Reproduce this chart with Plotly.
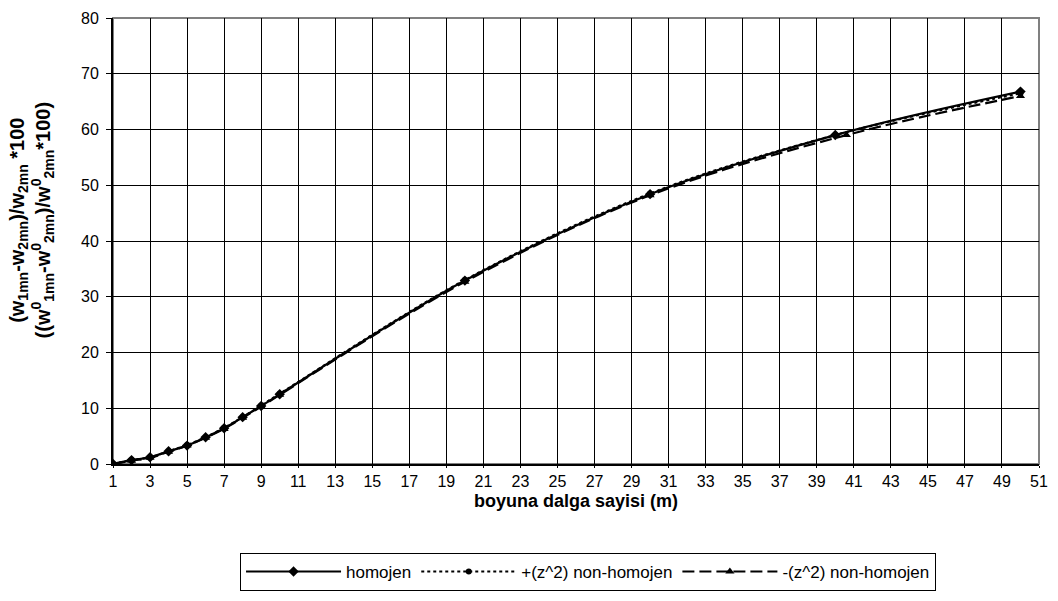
import plotly.graph_objects as go

# m values and relative frequency differences (%)
m_homojen = [1, 2, 3, 4, 5, 6, 7, 8, 9, 10, 20, 30, 40, 50]
homojen = [0.0, 0.7, 1.2, 2.3, 3.3, 4.8, 6.4, 8.4, 10.4, 12.5, 32.9, 48.4, 59.0, 66.8]

m_plus = [1, 2, 3, 4, 5, 6, 7, 8, 9, 10, 20, 30, 40, 50]
plus_z2 = [0.0, 0.7, 1.2, 2.3, 3.4, 4.8, 6.5, 8.4, 10.5, 12.6, 33.0, 48.5, 59.0, 66.5]

m_minus = [1, 2, 3, 4, 5, 6, 7, 8, 9, 10, 20, 30, 40.6, 50]
minus_z2 = [0.0, 0.6, 1.1, 2.2, 3.3, 4.7, 6.3, 8.3, 10.3, 12.4, 32.7, 48.2, 59.0, 66.0]

x_ticks = list(range(1, 52, 2))
y_ticks = list(range(0, 81, 10))

font = "Liberation Sans, Arial, sans-serif"

fig = go.Figure()
fig.add_trace(go.Scatter(
    x=m_homojen, y=homojen, name="homojen", mode="lines+markers",
    line=dict(color="black", width=2.2, shape="spline"),
    marker=dict(symbol="diamond", size=8, color="black"),
))
fig.add_trace(go.Scatter(
    x=m_plus, y=plus_z2, name="+(z^2) non-homojen", mode="lines+markers",
    line=dict(color="black", width=2.2, dash="dot", shape="spline"),
    marker=dict(symbol="circle", size=6, color="black"),
))
fig.add_trace(go.Scatter(
    x=m_minus, y=minus_z2, name="-(z^2) non-homojen", mode="lines+markers",
    line=dict(color="black", width=2.2, dash="12px,5px", shape="spline"),
    marker=dict(symbol="triangle-up", size=8, color="black"),
))

fig.update_layout(
    width=1058, height=601,
    margin=dict(l=113, r=15, t=10, b=137),
    paper_bgcolor="white", plot_bgcolor="white",
    font=dict(family=font, size=16, color="black"),
    showlegend=True,
    legend=dict(
        orientation="h", x=0.513, y=-0.242, xanchor="center", yanchor="middle",
        bordercolor="black", borderwidth=1, bgcolor="white",
        font=dict(size=17), itemwidth=95, tracegroupgap=0,
    ),
    xaxis=dict(
        range=[1, 51], tickmode="array", tickvals=x_ticks,
        showgrid=True, gridcolor="black", gridwidth=1,
        showline=True, linecolor="black", linewidth=2,
        ticks="outside", ticklen=2, tickcolor="black",
        zeroline=False, mirror=False, tickfont=dict(size=16),
    ),
    yaxis=dict(
        range=[0, 80], tickmode="array", tickvals=y_ticks,
        showgrid=True, gridcolor="black", gridwidth=1,
        showline=True, linecolor="black", linewidth=2,
        ticks="outside", ticklen=5, tickcolor="black",
        zeroline=False, tickfont=dict(size=16), ticklabelstandoff=4,
    ),
    shapes=[dict(
        type="rect", xref="paper", yref="paper", x0=0, y0=0, x1=1, y1=1,
        line=dict(color="#808080", width=2), layer="below",
    )],
    annotations=[
        dict(
            text="<b>boyuna dalga sayisi (m)</b>", xref="paper", yref="paper",
            x=0.5, y=-0.082, xanchor="center", yanchor="middle",
            showarrow=False, font=dict(size=18),
        ),
        dict(
            text="<b>(w<sub>1mn</sub>-w<sub>2mn</sub>)/w<sub>2mn</sub> *100<br>"
                 "((w<sup>0</sup><sub>1mn</sub>-w<sup>0</sup><sub>2mn</sub>)/w<sup>0</sup><sub>2mn</sub>*100)</b>",
            xref="paper", yref="paper", x=-0.088, y=0.545,
            xanchor="center", yanchor="middle", textangle=-90,
            showarrow=False, font=dict(size=20),
        ),
    ],
)

fig.write_html("out.html")
